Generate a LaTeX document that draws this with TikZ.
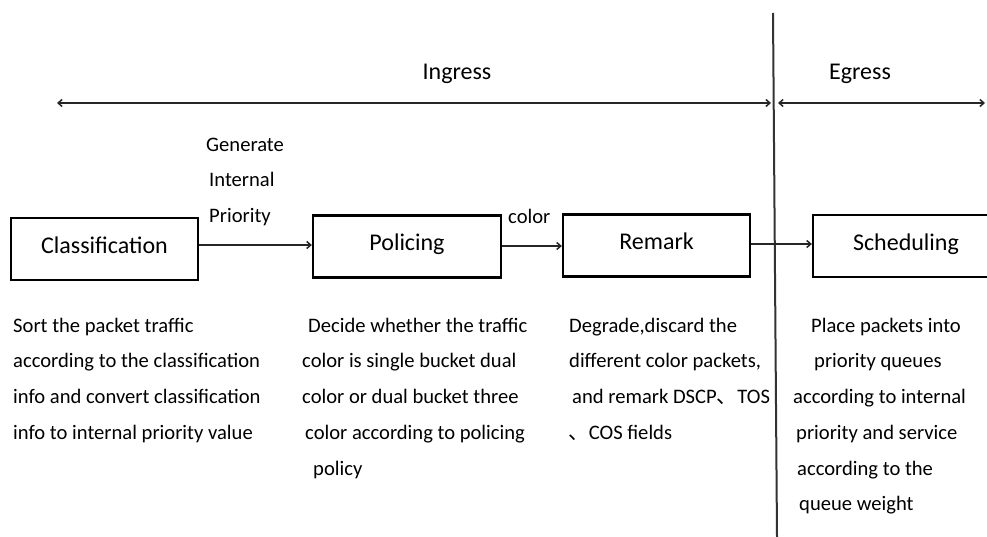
\documentclass[tikz,border=0pt]{standalone}
\usepackage{fontspec}
\setmainfont{Carlito}
\newfontfamily\cjk{Noto Sans CJK SC}
\usetikzlibrary{arrows.meta}
\begin{document}
\begin{tikzpicture}[x=1pt,y=-1pt,
  txt/.style={anchor=base west,inner sep=0pt,font=\fontsize{20.6}{24}\selectfont,text=black},
  big/.style={inner sep=0pt,font=\fontsize{24}{28}\selectfont,text=black},
  stagebox/.style={draw=black,line width=2.3pt,inner sep=0pt,font=\fontsize{24}{28}\selectfont,text=black,
    minimum height=62pt,text height=14.5pt,text depth=5.5pt},
  flow/.style={line width=1.6pt,draw=black!85,-{Straight Barb[length=4pt,width=7pt,line width=1.5pt]}},
  span/.style={line width=1.6pt,draw=black!85,{Straight Barb[length=4pt,width=7pt,line width=1.5pt]}-{Straight Barb[length=4pt,width=7pt,line width=1.5pt]}}]
\begin{scope}
\clip (0,0) rectangle (987,537);
\fill[white] (0,0) rectangle (987,537);
% boxes
\node[stagebox,minimum width=187pt] (cls) at (104.5,249) {Classification};
\node[stagebox,minimum width=188pt] (pol) at (407,246.5) {Policing};
\node[stagebox,minimum width=187pt] (rem) at (656.5,245.5) {Remark};
\node[stagebox,minimum width=186pt] (sch) at (906,246) {Scheduling};
% divider
\coordinate (vtop) at (773,13);
\coordinate (vbot) at (777,537);
\draw[line width=2pt,draw=black!80] (vtop) -- (vbot);
% spans
\coordinate (inL) at (57,103);
\coordinate (inR) at (771,103);
\coordinate (egL) at (778,103);
\coordinate (egR) at (985,103);
\draw[span] (inL) -- (inR);
\draw[span] (egL) -- (egR);
\node[big,anchor=base] (ingress) at (457,80) {Ingress};
\node[big,anchor=base] (egress) at (860,80) {Egress};
% flows
\draw[flow] (cls.east |- 0,245) -- (pol.west |- 0,245);
\draw[flow] (pol.east |- 0,246) -- (rem.west |- 0,246);
\draw[flow] (rem.east |- 0,244) -- (sch.west |- 0,244);
% flow labels
\node[txt] (g1) at (206,152) {Generate};
\node[txt] (g2) at (209,187) {Internal};
\node[txt] (g3) at (209,223) {Priority};
\node[txt] (col) at (508,224) {color};
% column 1
\node[txt] (a1) at (13,332) {Sort the packet traffic};
\node[txt] (a2) at (13,367) {according to the classification};
\node[txt] (a3) at (13,403) {info and convert classification};
\node[txt] (a4) at (13,439) {info to internal priority value};
% column 2
\node[txt] (b1) at (308,332) {Decide whether the traffic};
\node[txt] (b2) at (302,367) {color is single bucket dual};
\node[txt] (b3) at (302,403) {color or dual bucket three};
\node[txt] (b4) at (305,439) {color according to policing};
\node[txt] (b5) at (313,475) {policy};
% column 3
\node[txt] (c1) at (569,332) {Degrade,discard the};
\node[txt] (c2) at (569,367) {different color packets,};
\node[txt] (c3) at (572,403) {and remark DSCP{\cjk 、}TOS};
\node[txt] (c4) at (568,439) {{\cjk 、}COS fields};
% column 4
\node[txt] (d1) at (811,332) {Place packets into};
\node[txt] (d2) at (814,367) {priority queues};
\node[txt] (d3) at (793,403) {according to internal};
\node[txt] (d4) at (796,439) {priority and service};
\node[txt] (d5) at (797,475) {according to the};
\node[txt] (d6) at (799,510) {queue weight};
\end{scope}
\pgfresetboundingbox
\useasboundingbox (0,0) rectangle (987,537);
\end{tikzpicture}
\end{document}
